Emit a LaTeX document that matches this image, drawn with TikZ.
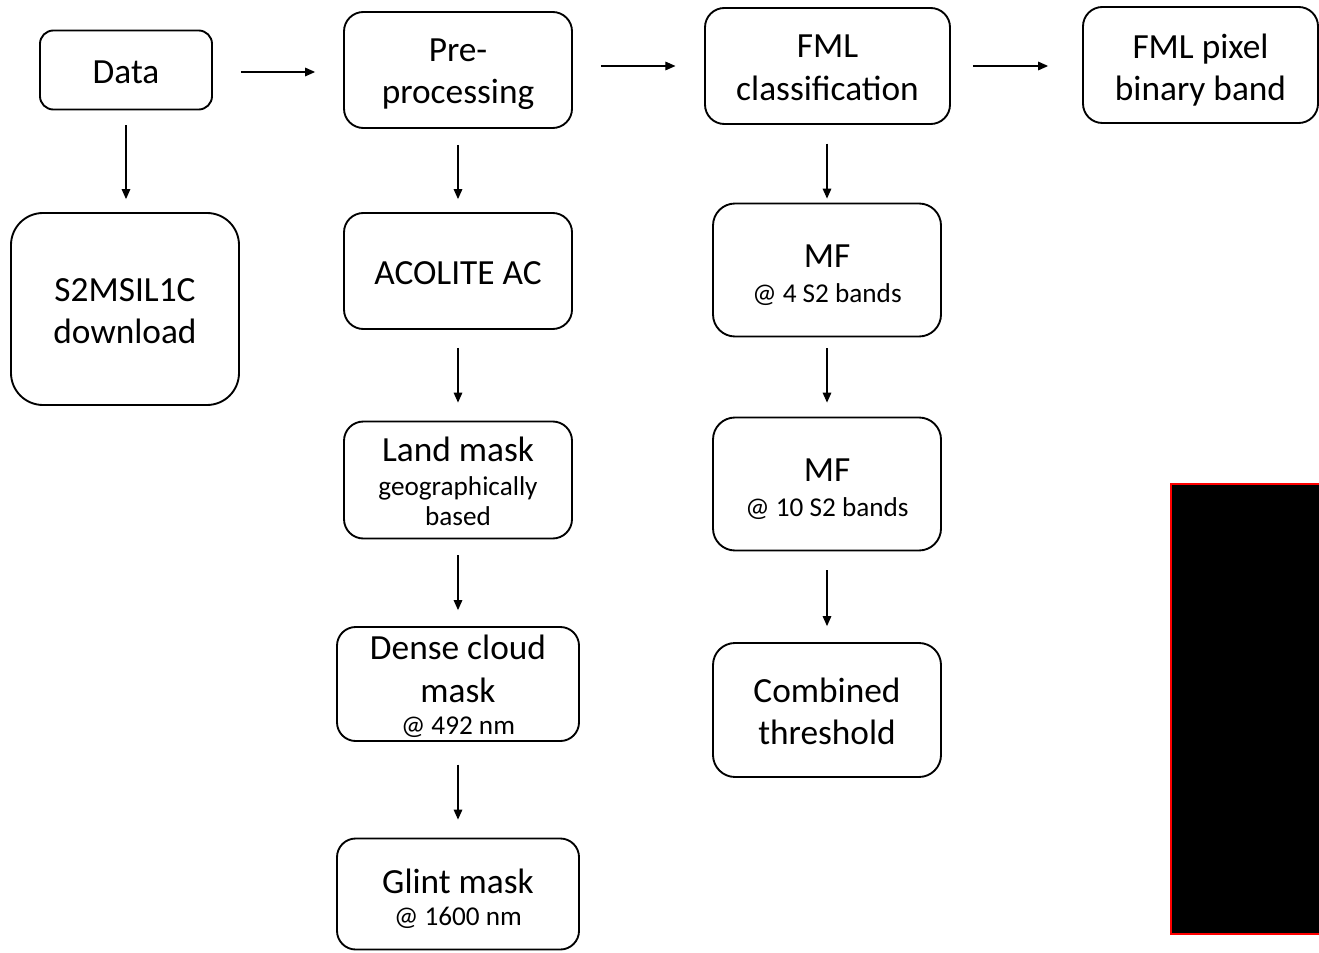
\documentclass[tikz,border=0pt]{standalone}
\usepackage{fontspec}
\setmainfont{Carlito}
\usetikzlibrary{arrows.meta}
\newcommand{\bigtxt}{\fontsize{26.5}{32}\selectfont}
\newcommand{\smtxt}{\fontsize{20.4}{23}\selectfont}
\newcommand{\tp}[1]{\rule{0pt}{#1}}
\tikzset{
  rbox/.style n args={3}{draw, line width=1.4pt, fill=white, inner sep=0pt, align=center,
    font=\bigtxt, minimum width=#1, minimum height=#2, rounded corners=#3},
  arr/.style={line width=0.8pt, -{Triangle[length=7.5pt,width=6.5pt]}},
  redact/.style={fill=black, draw=red, line width=1.2pt}
}
\begin{document}
\begin{tikzpicture}[x=0.75pt,y=-0.75pt]
\useasboundingbox (0,0) rectangle (1319,952);

% column 1
\node[rbox={129pt}{59.25pt}{10pt}] (data) at (126,70) {\tp{20.1pt}Data};
\node[rbox={171pt}{144pt}{24pt}] (s2) at (125,309) {\tp{20.4pt}S2MSIL1C\\download};

% column 2
\node[rbox={171pt}{87pt}{14.5pt}] (pre) at (458,70) {\tp{23.1pt}Pre-\\processing};
\node[rbox={171pt}{87pt}{14.5pt}] (aco) at (458,271) {\tp{20.4pt}ACOLITE AC};
\node[rbox={171pt}{87.75pt}{14.5pt}] (land) at (458,480) {\tp{20.6pt}Land mask\\[-7pt]\smtxt geographically\\[-9.5pt]\smtxt based};
\node[rbox={181.5pt}{85.5pt}{14pt}] (dense) at (458,684) {\tp{21.6pt}Dense cloud\\mask\\[-8pt]\smtxt @ 492 nm};
\node[rbox={181.5pt}{83.25pt}{14pt}] (glint) at (458,894) {\tp{26.1pt}Glint mask\\[-8pt]\smtxt @ 1600 nm};

% column 3
\node[rbox={183.75pt}{87pt}{14.5pt}] (fml) at (827.5,66) {\tp{20pt}FML\\classification};
\node[rbox={171pt}{99.75pt}{16.5pt}] (mf4) at (827,270) {\tp{24.6pt}MF\\[-6pt]\smtxt @ 4 S2 bands};
\node[rbox={171pt}{99.75pt}{16.5pt}] (mf10) at (827,484) {\tp{24.6pt}MF\\[-6pt]\smtxt @ 10 S2 bands};
\node[rbox={171pt}{100.5pt}{16.5pt}] (comb) at (827,710) {\tp{20.6pt}Combined\\threshold};

% column 4
\node[rbox={176.25pt}{87pt}{14.5pt}] (pix) at (1200.5,65) {\tp{26.1pt}FML pixel\\binary band};

% redacted block
\coordinate (bk1) at (1171,484);
\coordinate (bk2) at (1330,934);
\draw[redact] (bk1) rectangle (bk2);

% horizontal arrows
\draw[arr, shorten <=21pt, shorten >=21pt] ([yshift=-1.5pt]data.east) -- ([yshift=-1.5pt]pre.west);
\draw[arr, shorten <=21pt, shorten >=21.5pt] (pre.east |- fml.east) -- (fml.west);
\draw[arr, shorten <=16.5pt, shorten >=25.5pt] (fml.east) -- (pix.west |- fml.east);

% vertical arrows
\draw[arr, shorten <=11.25pt, shorten >=9.75pt] (data.south) -- (s2.north -| data.south);
\draw[arr, shorten <=12pt, shorten >=9.75pt] (pre.south) -- (aco.north);
\draw[arr, shorten <=13.5pt, shorten >=13.5pt] (aco.south) -- (land.north);
\draw[arr, shorten <=12pt, shorten >=12pt] (land.south) -- (dense.north);
\draw[arr, shorten <=17pt, shorten >=13.5pt] (dense.south) -- (glint.north);
\draw[arr, shorten <=14pt, shorten >=3pt] (fml.south -| mf4.north) -- (mf4.north);
\draw[arr, shorten <=8pt, shorten >=10.5pt] (mf4.south) -- (mf10.north);
\draw[arr, shorten <=14pt, shorten >=12pt] (mf10.south) -- (comb.north);
\end{tikzpicture}
\end{document}
